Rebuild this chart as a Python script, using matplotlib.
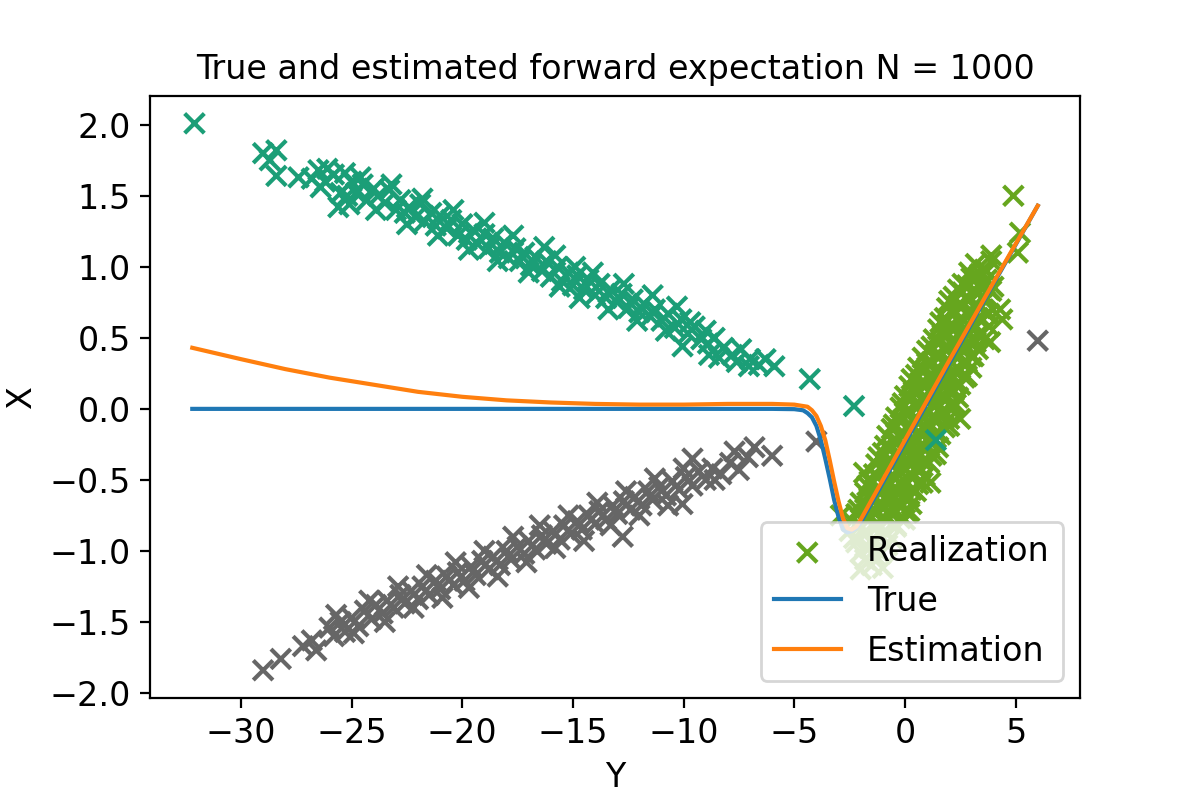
import matplotlib
matplotlib.use('Agg')
import matplotlib.pyplot as plt
import numpy as np

plt.rcParams['font.size'] = 12

# realizations (green cluster first so the legend marker is green)
green_x = [3.2, 3.6, 3.9, 3.4,
           2.6, 3.0, 3.3, 3.7, 4.0,
           2.2, 2.6, 2.9, 3.3, 3.6, 3.9,
           1.9, 2.3, 2.6, 3.0, 3.4, 3.8,
           1.6, 2.0, 2.4, 2.7, 3.1, 3.5, 3.8,
           1.3, 1.7, 2.1, 2.5, 2.9, 3.3, 3.6,
           1.0, 1.4, 1.8, 2.2, 2.6, 3.0, 3.3,
           0.6, 1.0, 1.4, 1.8, 2.2, 2.6, 3.0,
           0.3, 0.7, 1.1, 1.5, 1.9, 2.3, 2.7,
           0.0, 0.4, 0.8, 1.2, 1.6, 2.0, 2.4,
           -0.2, 0.2, 0.6, 1.0, 1.4, 1.8, 2.2,
           -0.5, -0.1, 0.3, 0.7, 1.1, 1.5, 2.0,
           -0.8, -0.4, 0.0, 0.4, 0.8, 1.2, 1.6,
           -1.0, -0.6, -0.2, 0.2, 0.6, 1.0, 1.4,
           -1.3, -0.9, -0.5, -0.1, 0.3, 0.7, 1.1,
           -1.6, -1.2, -0.8, -0.4, 0.0, 0.4, 0.8,
           -1.8, -1.4, -1.0, -0.6, -0.2, 0.2, 0.5,
           -2.1, -1.7, -1.3, -0.9, -0.5, -0.1, 0.2,
           -2.4, -2.0, -1.6, -1.2, -0.8, -0.4, 0.0,
           -2.3, -1.9, -1.5, -1.1, -0.6,
           -2.0, -1.6, -1.1,
           -2.0, -1.5, -1.0,
           4.9, 5.2, 5.1, 3.9, 4.4, 4.3, 3.85, -1.85, 1.15, 0.1, 2.5, -2.9,
           # in-between rows
           2.9, 3.3, 3.7,
           2.4, 2.8, 3.2, 3.5, 3.8,
           2.0, 2.4, 2.8, 3.2, 3.6,
           1.8, 2.2, 2.6, 2.9, 3.3, 3.7,
           1.5, 1.9, 2.3, 2.7, 3.1, 3.5,
           1.2, 1.6, 2.0, 2.4, 2.8, 3.2,
           0.8, 1.2, 1.6, 2.0, 2.4, 2.8, 3.1,
           0.5, 0.9, 1.3, 1.7, 2.1, 2.5, 2.8,
           0.2, 0.6, 1.0, 1.4, 1.8, 2.2, 2.5,
           -0.1, 0.3, 0.7, 1.1, 1.5, 1.9, 2.3,
           -0.4, 0.0, 0.4, 0.8, 1.2, 1.6, 2.0,
           -0.6, -0.2, 0.2, 0.6, 1.0, 1.4, 1.8,
           -0.9, -0.5, -0.1, 0.3, 0.7, 1.1, 1.5,
           -1.2, -0.8, -0.4, 0.0, 0.4, 0.8, 1.2,
           -1.4, -1.0, -0.6, -0.2, 0.2, 0.6, 0.9,
           -1.7, -1.3, -0.9, -0.5, -0.1, 0.3, 0.6,
           -2.0, -1.6, -1.2, -0.8, -0.4, 0.0, 0.3,
           -2.2, -1.8, -1.4, -1.0, -0.6, -0.2,
           -2.5, -2.1, -1.7, -1.3, -0.9, -0.4,
           -2.2, -1.8, -1.3, -0.8,
           -1.8, -1.3]
green_y = [1.02, 0.98, 1.04, 0.95,
           0.88, 0.92, 0.87, 0.91, 0.86,
           0.79, 0.82, 0.77, 0.81, 0.78, 0.83,
           0.71, 0.68, 0.72, 0.69, 0.71, 0.67,
           0.61, 0.58, 0.62, 0.57, 0.60, 0.63, 0.58,
           0.49, 0.52, 0.48, 0.51, 0.47, 0.52, 0.49,
           0.41, 0.38, 0.42, 0.39, 0.41, 0.37, 0.42,
           0.29, 0.32, 0.28, 0.31, 0.27, 0.32, 0.29,
           0.21, 0.18, 0.22, 0.19, 0.21, 0.17, 0.22,
           0.09, 0.12, 0.08, 0.11, 0.09, 0.12, 0.08,
           0.01, -0.02, 0.02, -0.01, 0.03, -0.02, 0.01,
           -0.11, -0.08, -0.12, -0.09, -0.11, -0.08, -0.12,
           -0.19, -0.22, -0.18, -0.21, -0.19, -0.22, -0.18,
           -0.31, -0.28, -0.32, -0.29, -0.31, -0.28, -0.32,
           -0.39, -0.42, -0.38, -0.41, -0.39, -0.42, -0.38,
           -0.51, -0.48, -0.52, -0.49, -0.51, -0.48, -0.52,
           -0.59, -0.62, -0.58, -0.61, -0.59, -0.62, -0.58,
           -0.71, -0.68, -0.72, -0.69, -0.71, -0.68, -0.72,
           -0.79, -0.82, -0.78, -0.81, -0.79, -0.82, -0.78,
           -0.91, -0.88, -0.92, -0.89, -0.91,
           -1.01, -0.98, -1.02,
           -1.13, -1.10, -1.12,
           1.50, 1.24, 1.10, 1.08, 0.63, 0.70, 0.47, -0.45, -0.52, -0.73, -0.07, -0.75,
           0.96, 0.93, 0.97,
           0.84, 0.87, 0.83, 0.86, 0.84,
           0.76, 0.73, 0.77, 0.74, 0.76,
           0.64, 0.67, 0.63, 0.66, 0.64, 0.67,
           0.56, 0.53, 0.57, 0.54, 0.56, 0.53,
           0.44, 0.47, 0.43, 0.46, 0.44, 0.47,
           0.36, 0.33, 0.37, 0.34, 0.36, 0.33, 0.37,
           0.24, 0.27, 0.23, 0.26, 0.24, 0.27, 0.23,
           0.16, 0.13, 0.17, 0.14, 0.16, 0.13, 0.17,
           0.04, 0.07, 0.03, 0.06, 0.04, 0.07, 0.03,
           -0.06, -0.03, -0.07, -0.04, -0.06, -0.03, -0.07,
           -0.14, -0.17, -0.13, -0.16, -0.14, -0.17, -0.13,
           -0.26, -0.23, -0.27, -0.24, -0.26, -0.23, -0.27,
           -0.34, -0.37, -0.33, -0.36, -0.34, -0.37, -0.33,
           -0.46, -0.43, -0.47, -0.44, -0.46, -0.43, -0.47,
           -0.54, -0.57, -0.53, -0.56, -0.54, -0.57, -0.53,
           -0.66, -0.63, -0.67, -0.64, -0.66, -0.63, -0.67,
           -0.74, -0.77, -0.73, -0.76, -0.74, -0.77,
           -0.86, -0.83, -0.87, -0.84, -0.86, -0.83,
           -0.94, -0.97, -0.93, -0.96,
           -1.06, -1.04]

teal_x = [-32.1, -29.0, -28.7, -28.4, -28.4, -27.4, -26.8, -26.5, -26.1, -26.4, -25.6, -25.3,
          -25.2, -25.0, -24.8, -24.5, -24.3, -24.0, -23.8, -23.5, -23.3, -23.0, -22.8, -22.6,
          -22.4, -22.1, -21.9, -21.7, -21.4, -21.2, -21.0, -20.7, -20.5, -20.2, -20.0, -19.8,
          -19.5, -19.3, -19.0, -18.8, -18.6, -18.3, -18.1, -17.9, -17.6, -17.4, -17.2, -16.9,
          -16.7, -16.4, -16.2, -16.0, -15.8, -15.7, -15.5, -15.2, -15.0, -14.9, -14.8, -14.5,
          -14.3, -14.0, -13.8, -13.5, -13.3, -13.0, -12.8, -12.5, -12.3, -12.0, -11.8, -11.5,
          -11.3, -11.0, -10.7, -10.4, -10.1, -10.05, -9.8, -9.5, -9.2, -8.9, -8.85, -8.6, -8.2,
          -7.8, -7.4, -7.05, -7.0, -6.6, -6.3, -5.9, -4.3, -2.3, 1.4,
          -26.2, -25.8, -25.5, -25.1, -24.6, -23.9, -23.2, -22.5, -21.8, -21.1, -20.4, -19.7,
          -19.0, -18.4, -17.7, -17.0, -16.3, -15.6, -14.7, -14.1, -13.4, -12.7, -12.1, -11.4,
          -10.8, -10.3, -9.7, -9.0, -8.4, -7.6]
teal_y = [2.01, 1.80, 1.75, 1.82, 1.64, 1.63, 1.62, 1.68, 1.69, 1.56, 1.42, 1.66,
          1.50, 1.60, 1.52, 1.58, 1.47, 1.55, 1.50, 1.45, 1.54, 1.40, 1.47, 1.38,
          1.42, 1.35, 1.44, 1.32, 1.38, 1.29, 1.36, 1.27, 1.33, 1.22, 1.30, 1.19,
          1.26, 1.16, 1.23, 1.13, 1.20, 1.10, 1.17, 1.06, 1.13, 1.04, 1.10, 1.01,
          1.07, 0.97, 1.04, 0.93, 1.08, 1.00, 0.90, 0.96, 0.87, 1.00, 0.94, 0.84,
          0.91, 0.80, 0.88, 0.78, 0.84, 0.75, 0.81, 0.71, 0.77, 0.68, 0.74, 0.65,
          0.70, 0.62, 0.67, 0.57, 0.63, 0.44, 0.53, 0.58, 0.49, 0.46, 0.38, 0.50, 0.43,
          0.38, 0.42, 0.30, 0.35, 0.31, 0.35, 0.30, 0.21, 0.02, -0.22,
          1.60, 1.65, 1.52, 1.44, 1.63, 1.40, 1.58, 1.30, 1.48, 1.22, 1.40, 1.12,
          1.31, 1.04, 1.22, 0.96, 1.14, 0.86, 0.78, 0.96, 0.70, 0.88, 0.62, 0.80,
          0.55, 0.72, 0.61, 0.55, 0.36, 0.33]

grey_x = [-29.0, -28.2, -27.2, -26.8, -26.6, -26.0, -25.8, -25.5, -25.3, -25.0, -24.7, -24.4,
          -24.1, -23.9, -23.6, -23.4, -23.1, -22.8, -22.6, -22.3, -22.0, -21.8, -21.5, -21.2,
          -21.0, -20.7, -20.4, -20.2, -19.9, -19.6, -19.4, -19.1, -18.8, -18.6, -18.3, -18.0,
          -17.8, -17.5, -17.2, -17.0, -16.7, -16.4, -16.2, -15.9, -15.6, -15.4, -15.1, -14.8,
          -14.6, -14.3, -14.0, -13.8, -13.5, -13.2, -13.0, -12.7, -12.4, -12.2, -11.9, -11.6,
          -11.4, -11.1, -10.8, -10.5, -10.2, -9.9, -9.6, -9.3, -9.0, -8.7, -8.3, -7.9, -7.5,
          -7.1, -6.8, -6.0, -4.0, 6.0,
          -25.7, -24.9, -24.2, -23.5, -22.9, -22.2, -21.6, -20.9, -20.3, -19.7, -19.0, -18.4,
          -17.7, -17.1, -16.5, -15.8, -15.2, -14.5, -13.9, -13.3, -12.75, -12.6, -12.0, -11.3,
          -10.7, -10.05, -10.0, -9.6, -8.6, -7.7]
grey_y = [-1.84, -1.76, -1.67, -1.63, -1.70, -1.54, -1.60, -1.50, -1.57, -1.47, -1.53, -1.42,
          -1.48, -1.38, -1.44, -1.35, -1.40, -1.31, -1.37, -1.28, -1.34, -1.25, -1.31, -1.21,
          -1.27, -1.18, -1.24, -1.15, -1.21, -1.11, -1.17, -1.07, -1.13, -1.04, -1.10, -1.00,
          -1.06, -0.97, -1.02, -0.93, -0.99, -0.89, -0.95, -0.86, -0.92, -0.82, -0.88, -0.79,
          -0.85, -0.75, -0.81, -0.72, -0.78, -0.68, -0.74, -0.65, -0.71, -0.62, -0.68, -0.58,
          -0.64, -0.55, -0.61, -0.51, -0.57, -0.48, -0.54, -0.44, -0.50, -0.42, -0.46, -0.38, -0.43,
          -0.34, -0.27, -0.33, -0.23, 0.48,
          -1.45, -1.58, -1.35, -1.50, -1.25, -1.40, -1.17, -1.33, -1.08, -1.26, -1.00, -1.18,
          -0.90, -1.08, -0.82, -0.98, -0.75, -0.93, -0.66, -0.82, -0.90, -0.58, -0.75, -0.49,
          -0.68, -0.67, -0.42, -0.35, -0.50, -0.30]

# true and estimated forward expectation
true_x = [-32.2, -20, -10, -6, -5, -4.6, -4.4, -4.2, -4.0, -3.8, -3.6, -3.4, -3.2, -3.0,
          -2.8, -2.6, -2.4, -2.2, -2.0, 0, 2, 4, 6]
true_y = [0, 0, 0, 0, -0.002, -0.01, -0.03, -0.06, -0.12, -0.22, -0.35, -0.49, -0.64, -0.76,
          -0.85, -0.87, -0.86, -0.84, -0.80, -0.24, 0.32, 0.88, 1.43]
est_x = [-32.2, -30, -28, -26, -24, -22, -20, -18, -16, -14, -12, -10, -8, -6, -5, -4.4,
         -4.2, -4.0, -3.8, -3.6, -3.4, -3.2, -3.0, -2.8, -2.6, -2.4, -2.2, -2.0, 0, 2, 4, 6]
est_y = [0.43, 0.35, 0.28, 0.22, 0.17, 0.12, 0.085, 0.06, 0.045, 0.035, 0.03, 0.03, 0.035,
         0.035, 0.03, 0.015, -0.01, -0.05, -0.12, -0.22, -0.36, -0.51, -0.65, -0.77, -0.84,
         -0.85, -0.83, -0.78, -0.22, 0.34, 0.89, 1.43]

xs = np.array(green_x + teal_x + grey_x)
ys = np.array(green_y + teal_y + grey_y)
labels = np.array([1] * len(green_x) + [0] * len(teal_x) + [2] * len(grey_x))

fig, ax = plt.subplots(figsize=(6, 4), dpi=200)
ax.scatter(xs, ys, c=labels, cmap='Dark2', marker='x', s=50, label='Realization')
ax.plot(true_x, true_y, label='True')
ax.plot(est_x, est_y, label='Estimation')
ax.set_title('True and estimated forward expectation N = 1000', fontsize=12)
ax.set_xlabel('Y')
ax.set_ylabel('X')
ax.legend(loc='lower right')
fig.subplots_adjust(bottom=0.128)
fig.savefig('out.png')
